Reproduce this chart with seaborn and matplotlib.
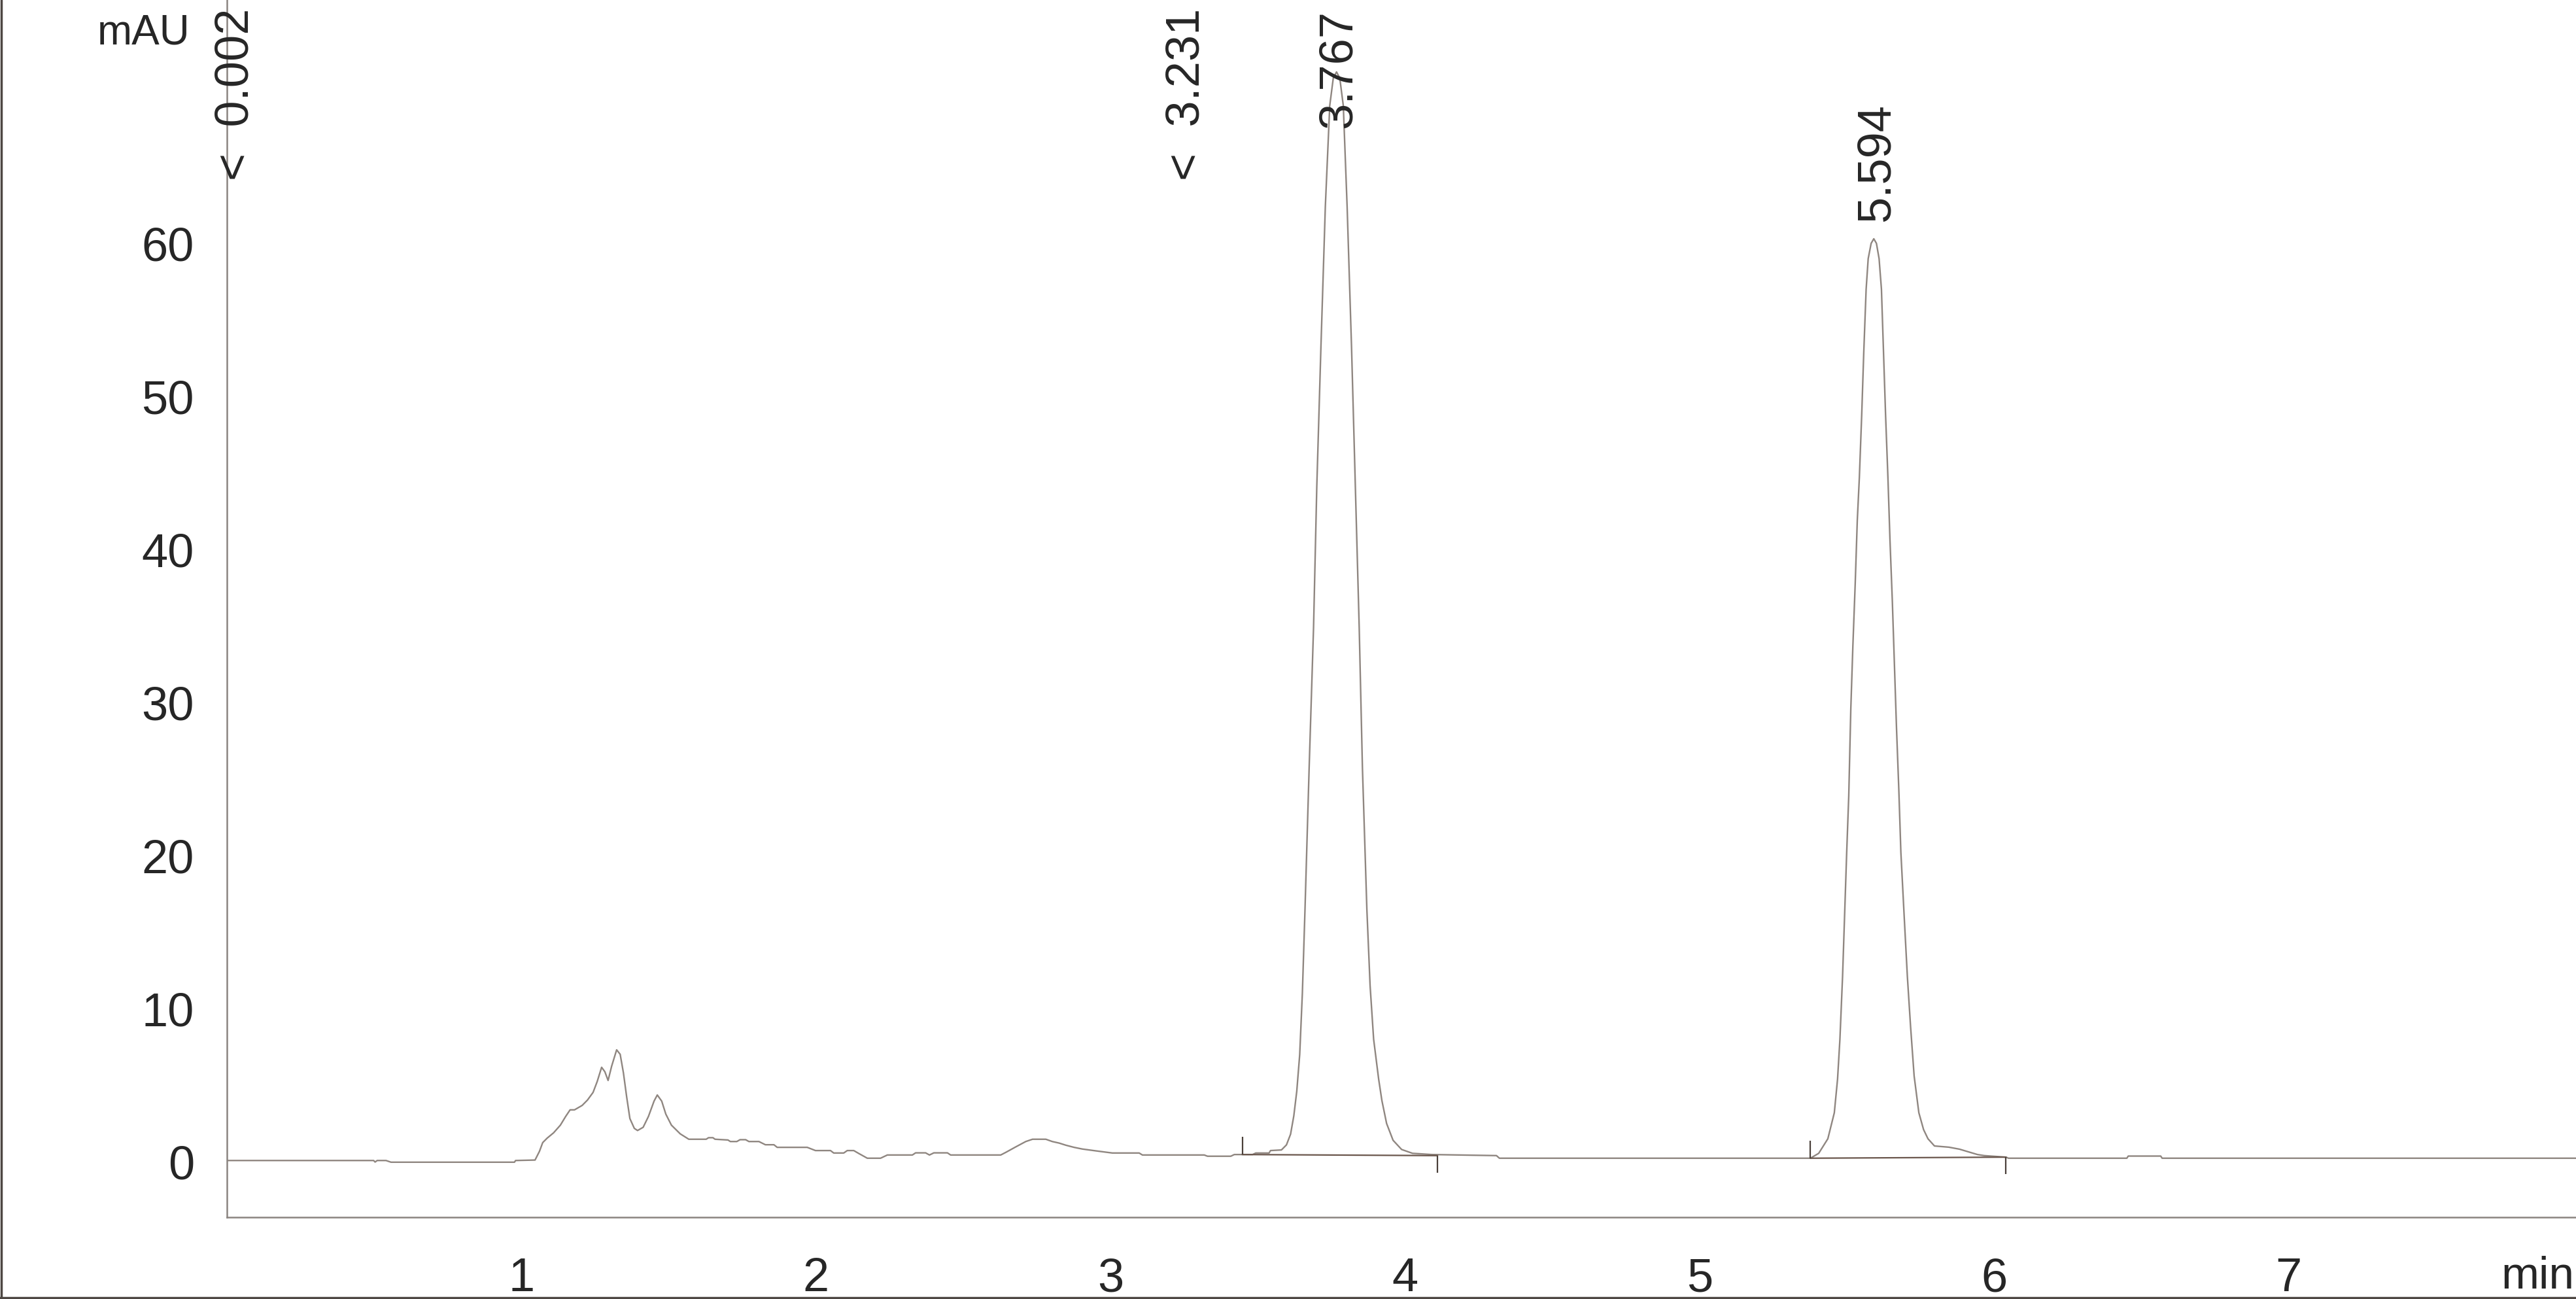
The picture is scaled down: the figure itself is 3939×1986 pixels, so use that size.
"""
色谱图复现

HPLC 色谱图：吸光度 (mAU) 随保留时间 (min) 变化，
标注两个主峰 3.767 / 5.594 以及事件标记 0.002 / 3.231。
"""

import numpy as np
import pandas as pd
import matplotlib
matplotlib.use("Agg")
import matplotlib.pyplot as plt
from matplotlib.lines import Line2D
from matplotlib.ticker import FixedLocator
import seaborn as sns

sns.set_style("white")
# 字体设置（set_style 之后再设）：刻度用窄体，峰标注用常规体
NARROW = ["Liberation Sans Narrow", "Liberation Sans", "DejaVu Sans"]
REGULAR = ["Liberation Sans", "DejaVu Sans"]
plt.rcParams["font.family"] = NARROW

# ---------------- 数据 ----------------
# 前段：基线 + 1~3 min 杂峰
FRONT_T = [0.000, 0.498, 0.503, 0.510, 0.540, 0.557, 0.976, 0.980, 1.046, 1.061,
           1.072, 1.087, 1.109, 1.132, 1.150, 1.165, 1.180, 1.206, 1.224, 1.243,
           1.257, 1.272, 1.283, 1.294, 1.306, 1.323, 1.335, 1.346, 1.357, 1.368,
           1.383, 1.394, 1.413, 1.431, 1.450, 1.461, 1.476, 1.490, 1.509, 1.539,
           1.568, 1.627, 1.635, 1.650, 1.657, 1.701, 1.709, 1.731, 1.742, 1.761,
           1.772, 1.806, 1.828, 1.857, 1.868, 1.970, 1.998, 2.049, 2.060, 2.094,
           2.106, 2.128, 2.145, 2.174, 2.219, 2.242, 2.327, 2.338, 2.372, 2.385,
           2.400, 2.446, 2.457, 2.627, 2.644, 2.678, 2.712, 2.735, 2.780, 2.802,
           2.825, 2.848, 2.876, 2.904, 2.950, 3.006, 3.097, 3.108, 3.318, 3.329,
           3.408, 3.420, 3.482, 3.493, 3.538, 3.543, 3.580]
FRONT_Y = [0.08, 0.08, -0.02, 0.08, 0.08, -0.03, -0.03, 0.08, 0.11, 0.68,
           1.25, 1.54, 1.89, 2.39, 2.96, 3.39, 3.39, 3.68, 4.03, 4.53,
           5.24, 6.17, 5.88, 5.31, 6.24, 7.31, 7.02, 5.81, 4.24, 2.82,
           2.18, 2.04, 2.25, 2.96, 3.96, 4.36, 3.96, 3.11, 2.39, 1.82,
           1.47, 1.47, 1.57, 1.57, 1.47, 1.42, 1.32, 1.32, 1.44, 1.44,
           1.32, 1.32, 1.11, 1.11, 0.94, 0.94, 0.73, 0.73, 0.57, 0.57,
           0.73, 0.73, 0.54, 0.23, 0.23, 0.44, 0.44, 0.58, 0.58, 0.44,
           0.58, 0.58, 0.44, 0.44, 0.61, 0.97, 1.32, 1.47, 1.47, 1.32,
           1.22, 1.08, 0.94, 0.83, 0.71, 0.57, 0.57, 0.44, 0.44, 0.36,
           0.36, 0.47, 0.47, 0.57, 0.57, 0.73, 0.77]

# 峰 1 (3.767 min)
PEAK1_T = [3.597, 3.611, 3.622, 3.632, 3.642, 3.651, 3.660, 3.674, 3.689, 3.700,
           3.714, 3.729, 3.744, 3.756, 3.767, 3.778, 3.790, 3.803, 3.818, 3.831,
           3.844, 3.855, 3.870, 3.881, 3.893, 3.910, 3.921, 3.937, 3.959, 3.988,
           4.025, 4.090, 4.310]
PEAK1_Y = [1.10, 1.80, 3.00, 4.60, 7.00, 11.0, 16.5, 25.7, 34.9, 44.1,
           53.2, 62.4, 69.0, 70.8, 71.2, 70.8, 69.0, 62.4, 53.2, 44.1,
           34.9, 25.7, 16.5, 11.5, 8.0, 5.4, 4.0, 2.5, 1.4, 0.80,
           0.55, 0.47, 0.40]

# 峰 2 (5.594 min) 及尾段
PEAK2_T = [4.320, 5.376, 5.404, 5.435, 5.457, 5.468, 5.476, 5.485, 5.492, 5.499,
           5.506, 5.513, 5.520, 5.528, 5.535, 5.542, 5.550, 5.557, 5.565, 5.572,
           5.582, 5.591, 5.600, 5.609, 5.617, 5.624, 5.631, 5.639, 5.646, 5.654,
           5.661, 5.668, 5.676, 5.683, 5.694, 5.705, 5.716, 5.728, 5.744, 5.760,
           5.775, 5.797, 5.846, 5.882, 5.943, 5.966, 6.040, 6.048, 6.450, 6.455,
           6.565, 6.570, 7.975]
PEAK2_Y = [0.23, 0.23, 0.55, 1.50, 3.20, 5.40, 8.00, 12.1, 16.1, 20.2,
           23.9, 29.6, 33.7, 37.8, 41.9, 44.7, 48.8, 52.9, 57.0, 59.0,
           60.0, 60.3, 60.0, 59.0, 57.0, 52.9, 48.8, 44.7, 40.6, 36.6,
           32.5, 28.4, 24.3, 20.2, 16.1, 12.1, 8.8, 5.6, 3.2, 2.1,
           1.5, 1.03, 0.95, 0.82, 0.47, 0.40, 0.30, 0.23, 0.23, 0.37,
           0.37, 0.23, 0.23]

# 峰标注
LABEL_RT = [0.002, 3.231, 3.767, 5.594]
LABEL_EVENT = [True, True, False, False]   # True: 带 "<" 的事件标记

# 积分基线（起点/终点）
INT_START_T = [3.447, 5.376]
INT_START_Y = [0.47, 0.23]
INT_END_T = [4.110, 6.040]
INT_END_Y = [0.40, 0.30]

# ---------------- 样式 ----------------
TRACE_COLOR = "#8f8680"
AXIS_COLOR = "#8a8480"
MARK_COLOR = "#4a403a"
XLIM = (0.0, 7.975)
YLIM = (-3.63, 75.9)


def plot_chromatogram(save_path: str = "out.png"):
    """绘制色谱图并保存"""
    df = pd.DataFrame({
        "time": FRONT_T + PEAK1_T + PEAK2_T,
        "mau": FRONT_Y + PEAK1_Y + PEAK2_Y,
    })

    fig = plt.figure(figsize=(39.39, 19.86), dpi=100)
    ax = fig.add_axes([0.0881, 0.0629, 0.9119, 0.9371])

    sns.lineplot(data=df, x="time", y="mau", estimator=None, sort=False,
                 color=TRACE_COLOR, linewidth=1.7, ax=ax)

    # 积分基线与起止标记
    for t0, y0, t1, y1 in zip(INT_START_T, INT_START_Y, INT_END_T, INT_END_Y):
        ax.plot([t0, t1], [y0, y1], color="#6a564c", linewidth=1.6)
        ax.vlines(t0, y0, y0 + 1.15, color=MARK_COLOR, linewidth=1.6)
        ax.vlines(t1, y1 - 1.1, y1, color=MARK_COLOR, linewidth=1.6)

    ax.set_xlim(*XLIM)
    ax.set_ylim(*YLIM)

    # 坐标轴样式
    for side in ("top", "right"):
        ax.spines[side].set_visible(False)
    for side in ("left", "bottom"):
        ax.spines[side].set_color(AXIS_COLOR)
        ax.spines[side].set_linewidth(1.8)

    ax.xaxis.set_major_locator(FixedLocator([1, 2, 3, 4, 5, 6, 7]))
    ax.xaxis.set_minor_locator(FixedLocator(np.arange(0.2, 8.0, 0.2)))
    ax.yaxis.set_major_locator(FixedLocator(np.arange(0, 71, 10)))
    ax.yaxis.set_minor_locator(FixedLocator(np.arange(-2, 76, 2)))
    ax.set_yticklabels([str(v) for v in range(0, 61, 10)] + [""])

    ax.tick_params(axis="x", which="major", direction="out", length=30, width=1.4,
                   color=AXIS_COLOR, pad=14, labelsize=52)
    ax.tick_params(axis="x", which="minor", direction="out", length=14.5, width=1.4,
                   color=AXIS_COLOR)
    ax.tick_params(axis="y", which="major", direction="out", length=24, width=1.4,
                   color=AXIS_COLOR, pad=12, labelsize=52)
    ax.tick_params(axis="y", which="minor", direction="out", length=11, width=1.4,
                   color=AXIS_COLOR)
    ax.set_xlabel("")
    ax.set_ylabel("")
    ax.grid(False)

    # 峰标注（竖排文字）
    for rt, event in zip(LABEL_RT, LABEL_EVENT):
        if event:
            ax.text(rt + 0.028, YLIM[1] - 0.55, f"<  {rt:.3f}", rotation=90,
                    ha="center", va="top", fontsize=52, family=REGULAR,
                    clip_on=False)
        else:
            apex = float(np.interp(rt, df["time"], df["mau"]))
            y = apex + 1.2
            va = "bottom"
            if y > YLIM[1] - 8.6:
                y, va = YLIM[1] - 0.64, "top"
            ax.text(rt + 0.007, y, f"{rt:.3f}", rotation=90,
                    ha="center", va=va, fontsize=52, family=REGULAR,
                    clip_on=False)

    # 单位
    fig.text(291 / 3939, 1 - 51 / 1986, "mAU", ha="right", va="center", fontsize=46)
    fig.text(3936 / 3939, 16 / 1986, "min", ha="right", va="baseline", fontsize=50)

    # 外框（左、下）
    fig.add_artist(Line2D([0.0005, 0.0005], [0, 1], transform=fig.transFigure,
                          color="#4d4743", linewidth=2.5))
    fig.add_artist(Line2D([0, 1], [0.0012, 0.0012], transform=fig.transFigure,
                          color="#4d4743", linewidth=2.5))

    fig.savefig(save_path, dpi=100, facecolor="white")
    plt.close(fig)


if __name__ == "__main__":
    plot_chromatogram("out.png")
